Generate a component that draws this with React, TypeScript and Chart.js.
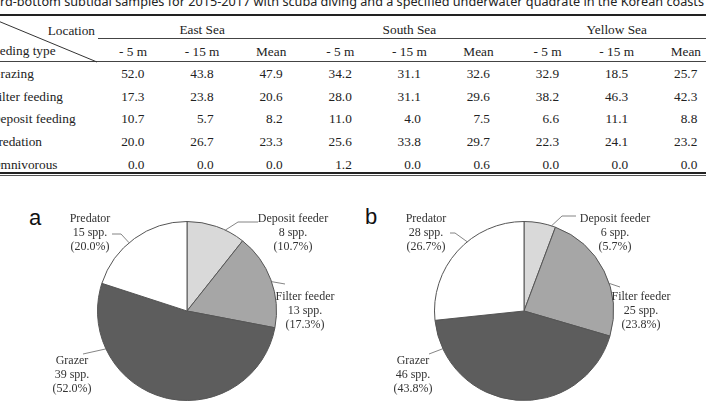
import React, { useEffect, useLayoutEffect, useRef } from "react";
import { Chart, registerables } from "chart.js";

Chart.register(...registerables);

// ---------------- data ----------------
const TITLE_TEXT =
  "rd-bottom subtidal samples for 2015-2017 with scuba diving and a specified underwater quadrate in the Korean coasts";
const LOCATIONS = ["East Sea", "South Sea", "Yellow Sea"];
const DEPTHS = ["- 5 m", "- 15 m", "Mean"];
const FEEDING_TYPES = ["Grazing", "Filter feeding", "Deposit feeding", "Predation", "Omnivorous"];
const GRAZING = [52.0, 43.8, 47.9, 34.2, 31.1, 32.6, 32.9, 18.5, 25.7];
const FILTER_FEEDING = [17.3, 23.8, 20.6, 28.0, 31.1, 29.6, 38.2, 46.3, 42.3];
const DEPOSIT_FEEDING = [10.7, 5.7, 8.2, 11.0, 4.0, 7.5, 6.6, 11.1, 8.8];
const PREDATION = [20.0, 26.7, 23.3, 25.6, 33.8, 29.7, 22.3, 24.1, 23.2];
const OMNIVOROUS = [0.0, 0.0, 0.0, 1.2, 0.0, 0.6, 0.0, 0.0, 0.0];

const PIE_GROUPS = ["Deposit feeder", "Filter feeder", "Grazer", "Predator"];
const PIE_A_SPP = [8, 13, 39, 15];
const PIE_A_PCT = [10.7, 17.3, 52.0, 20.0];
const PIE_B_SPP = [6, 25, 46, 28];
const PIE_B_PCT = [5.7, 23.8, 43.8, 26.7];

// ---------------- layout / style ----------------
const TABLE_ROWS = [GRAZING, FILTER_FEEDING, DEPOSIT_FEEDING, PREDATION, OMNIVOROUS];
const COL0 = 133;
const COL_STEP = 69.1;
const NUM_RIGHT_OFFSET = 11.5;
const ROW0 = 74;
const ROW_STEP = 22.65;
const SERIF = "'Liberation Serif', 'Times New Roman', serif";
const TABLE_FONT = 13.3;
const TITLE_WIDTH = 704;

const PIE_COLORS = ["#d9d9d9", "#a6a6a6", "#5d5d5d", "#ffffff"];

type LabelLayout = { dx: number; dy: number; frac: number; path: [number, number][] };
const LAYOUT_A: LabelLayout[] = [
  { dx: 106, dy: -78, frac: 0.66, path: [[71, -89], [51, -89]] },
  { dx: 118, dy: 0, frac: 0.52, path: [[98, -27]] },
  { dx: -115, dy: 64, frac: 0.77, path: [[-104, 43]] },
  { dx: -97, dy: -78, frac: 0.44, path: [[-75, -77], [-66, -77]] },
];
const LAYOUT_B: LabelLayout[] = [
  { dx: 91, dy: -78, frac: 0.87, path: [[52, -95], [38, -95]] },
  { dx: 117, dy: 0, frac: 0.6, path: [[96, -24]] },
  { dx: -111, dy: 64, frac: 0.88, path: [[-95, 43]] },
  { dx: -98, dy: -78, frac: 0.59, path: [[-74, -78], [-69, -78]] },
];
const PAD_A = { left: 97, right: 76, top: 21, bottom: 4 };
const PAD_B = { left: 81, right: 92, top: 21, bottom: 4 };

function labelPlugin(spp: number[], pct: number[], layout: LabelLayout[]) {
  return {
    id: "pieLabels",
    afterDraw(chart: any) {
      const ctx: CanvasRenderingContext2D = chart.ctx;
      const arcs = chart.getDatasetMeta(0).data as any[];
      ctx.save();
      ctx.font = `12px ${SERIF}`;
      ctx.fillStyle = "#333";
      ctx.textAlign = "center";
      ctx.textBaseline = "middle";
      ctx.strokeStyle = "#666";
      ctx.lineWidth = 0.8;
      arcs.forEach((arc, i) => {
        const L = layout[i];
        const cx = arc.x;
        const cy = arc.y;
        const r = arc.outerRadius;
        const ang = arc.startAngle + L.frac * (arc.endAngle - arc.startAngle);
        const ex = cx + r * Math.cos(ang);
        const ey = cy + r * Math.sin(ang);
        ctx.beginPath();
        L.path.forEach(([px, py], k) => {
          if (k === 0) ctx.moveTo(cx + px, cy + py);
          else ctx.lineTo(cx + px, cy + py);
        });
        ctx.lineTo(ex, ey);
        ctx.stroke();
        const lines = [PIE_GROUPS[i], `${spp[i]} spp.`, `(${pct[i].toFixed(1)}%)`];
        lines.forEach((t, k) => {
          ctx.fillText(t, cx + L.dx, cy + L.dy + (k - 1) * 14);
        });
      });
      ctx.restore();
    },
  };
}

function makePie(
  canvas: HTMLCanvasElement,
  spp: number[],
  pct: number[],
  layout: LabelLayout[],
  pad: { left: number; right: number; top: number; bottom: number }
) {
  return new Chart(canvas, {
    type: "pie",
    data: {
      labels: PIE_GROUPS,
      datasets: [
        {
          data: spp,
          backgroundColor: PIE_COLORS,
          borderColor: "#555",
          borderWidth: 1,
        },
      ],
    },
    options: {
      animation: false,
      responsive: false,
      maintainAspectRatio: false,
      events: [],
      layout: { padding: pad },
      plugins: { legend: { display: false }, tooltip: { enabled: false } },
    },
    plugins: [labelPlugin(spp, pct, layout) as any],
  });
}

const colCenter = (i: number) => COL0 + i * COL_STEP;
const rowCenter = (i: number) => ROW0 + i * ROW_STEP;

function Txt(props: {
  text: string;
  x: number;
  y: number;
  align: "left" | "center" | "right";
}) {
  const { text, x, y, align } = props;
  const w = 120;
  const left = align === "center" ? x - w / 2 : align === "right" ? x - w : x;
  return (
    <div
      style={{
        position: "absolute",
        left,
        top: y - 10,
        width: w,
        height: 20,
        lineHeight: "20px",
        textAlign: align,
        whiteSpace: "nowrap",
        fontFamily: SERIF,
        fontSize: TABLE_FONT,
        color: "#222",
      }}
    >
      {text}
    </div>
  );
}

function HLine(props: { x: number; y: number; w: number; h: number; c: string }) {
  return (
    <div
      style={{
        position: "absolute",
        left: props.x,
        top: props.y,
        width: props.w,
        height: props.h,
        background: props.c,
      }}
    />
  );
}

export default function App() {
  const titleRef = useRef<HTMLSpanElement>(null);
  const canvasA = useRef<HTMLCanvasElement>(null);
  const canvasB = useRef<HTMLCanvasElement>(null);

  useLayoutEffect(() => {
    const el = titleRef.current;
    if (el) {
      el.style.transform = "none";
      const w = el.getBoundingClientRect().width;
      if (w > 0) el.style.transform = `scaleX(${TITLE_WIDTH / w})`;
    }
  }, []);

  useEffect(() => {
    const a = makePie(canvasA.current!, PIE_A_SPP, PIE_A_PCT, LAYOUT_A, PAD_A);
    const b = makePie(canvasB.current!, PIE_B_SPP, PIE_B_PCT, LAYOUT_B, PAD_B);
    return () => {
      a.destroy();
      b.destroy();
    };
  }, []);

  const cells: React.ReactNode[] = [];
  LOCATIONS.forEach((loc, g) => {
    cells.push(<Txt key={"loc" + g} text={loc} x={colCenter(g * 3 + 1)} y={29.5} align="center" />);
    DEPTHS.forEach((d, j) => {
      cells.push(
        <Txt key={"dep" + g + j} text={d} x={colCenter(g * 3 + j)} y={52} align="center" />
      );
    });
  });
  TABLE_ROWS.forEach((row, r) => {
    cells.push(<Txt key={"ft" + r} text={FEEDING_TYPES[r]} x={-9} y={rowCenter(r)} align="left" />);
    row.forEach((v, c) => {
      cells.push(
        <Txt
          key={"v" + r + "_" + c}
          text={v.toFixed(1)}
          x={colCenter(c) + NUM_RIGHT_OFFSET}
          y={rowCenter(r)}
          align="right"
        />
      );
    });
  });

  return (
    <div
      style={{
        position: "fixed",
        left: 0,
        top: 0,
        width: 706,
        height: 405,
        overflow: "hidden",
        background: "#fff",
      }}
    >
      <span
        ref={titleRef}
        style={{
          position: "absolute",
          left: 0,
          top: -5.5,
          whiteSpace: "nowrap",
          fontFamily: "'Noto Sans', 'Open Sans', sans-serif",
          fontSize: 13,
          lineHeight: "13px",
          color: "#222",
          transformOrigin: "0 0",
        }}
      >
        {TITLE_TEXT}
      </span>

      <HLine x={0} y={14} w={706} h={2} c="#222" />
      <HLine x={98} y={38} w={608} h={1} c="#444" />
      <HLine x={0} y={61} w={706} h={1} c="#444" />
      <HLine x={0} y={172} w={706} h={2} c="#222" />
      <HLine x={0} y={175} w={706} h={1} c="#555" />

      <svg
        width={706}
        height={80}
        style={{ position: "absolute", left: 0, top: 0 }}
      >
        <line x1={-14} y1={16} x2={97} y2={62} stroke="#333" strokeWidth={1} />
      </svg>

      <Txt text="Location" x={95} y={30.5} align="right" />
      <Txt text="Feeding type" x={-13.5} y={51} align="left" />
      {cells}

      <div
        style={{
          position: "absolute",
          left: 29,
          top: 207.4,
          fontFamily: "'Liberation Sans', Arial, sans-serif",
          fontSize: 22,
          lineHeight: "22px",
          color: "#111",
        }}
      >
        a
      </div>
      <div
        style={{
          position: "absolute",
          left: 365,
          top: 206.4,
          fontFamily: "'Liberation Sans', Arial, sans-serif",
          fontSize: 22,
          lineHeight: "22px",
          color: "#111",
        }}
      >
        b
      </div>

      <canvas
        ref={canvasA}
        width={353}
        height={205}
        style={{ position: "absolute", left: 0, top: 200, width: 353, height: 205 }}
      />
      <canvas
        ref={canvasB}
        width={353}
        height={205}
        style={{ position: "absolute", left: 353, top: 200, width: 353, height: 205 }}
      />
    </div>
  );
}
